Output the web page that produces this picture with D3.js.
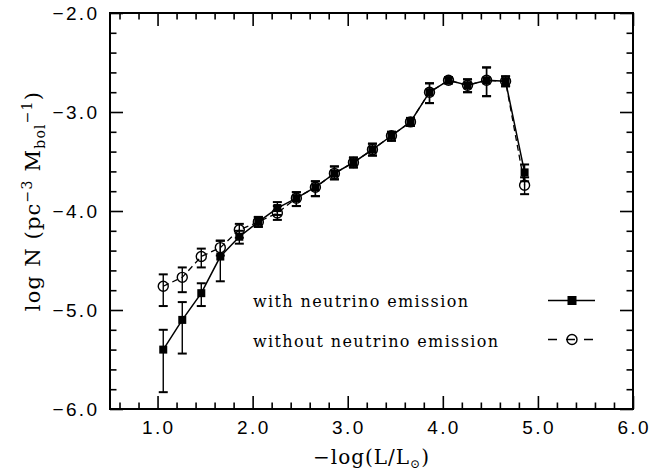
<!DOCTYPE html>
<html>
<head>
<meta charset="utf-8">
<script src="https://cdn.jsdelivr.net/npm/d3@7"></script>
<style>
  html, body { margin: 0; padding: 0; background: #fff; }
  svg { display: block; }
</style>
</head>
<body>
<svg id="chart" width="650" height="474"></svg>
<script>
// ---- data ----
const xVals = [1.06, 1.26, 1.46, 1.66, 1.86, 2.06, 2.26, 2.46, 2.66, 2.86,
               3.06, 3.26, 3.46, 3.66, 3.86, 4.06, 4.26, 4.46, 4.66, 4.86];
const withY   = [-5.40, -5.10, -4.83, -4.46, -4.26, -4.11, -3.97, -3.87, -3.76, -3.62,
                 -3.51, -3.38, -3.24, -3.10, -2.80, -2.68, -2.73, -2.68, -2.69, -3.61];
const withUp  = [0.20, 0.18, 0.10, 0.16, 0.06, 0.05, 0.06, 0.06, 0.06, 0.07,
                 0.05, 0.06, 0.04, 0.04, 0.09, 0.03, 0.06, 0.13, 0.05, 0.08];
const withDn  = [0.43, 0.34, 0.13, 0.25, 0.07, 0.05, 0.07, 0.08, 0.09, 0.06,
                 0.05, 0.06, 0.05, 0.04, 0.11, 0.03, 0.07, 0.16, 0.05, 0.09];
const withoutY  = [-4.76, -4.67, -4.46, -4.37, -4.19, -4.11, -4.02, -3.87, -3.76, -3.62,
                   -3.51, -3.38, -3.24, -3.10, -2.80, -2.68, -2.73, -2.68, -2.69, -3.74];
const withoutUp = [0.12, 0.10, 0.08, 0.07, 0.06, 0.05, 0.07, 0.06, 0.06, 0.07,
                   0.05, 0.06, 0.04, 0.04, 0.09, 0.03, 0.06, 0.13, 0.05, 0.08];
const withoutDn = [0.20, 0.15, 0.11, 0.08, 0.08, 0.05, 0.07, 0.08, 0.09, 0.06,
                   0.05, 0.06, 0.05, 0.04, 0.11, 0.03, 0.07, 0.16, 0.05, 0.09];
const xTicks = [1, 2, 3, 4, 5, 6];
const yTicks = [-6, -5, -4, -3, -2];
const seriesNames = ["with neutrino emission", "without neutrino emission"];

// ---- layout ----
const L = 110, R = 633, T = 13, B = 409;
const svg = d3.select("#chart");
const x = d3.scaleLinear().domain([0.5, 6]).range([L, R]);
const y = d3.scaleLinear().domain([-6, -2]).range([B, T]);

const xMinor = d3.range(0.6, 6.0001, 0.2).filter(v => Math.abs(v - Math.round(v)) > 1e-6);
const yMinor = d3.range(-5.8, -2.0001, 0.2).filter(v => Math.abs(v - Math.round(v)) > 1e-6);

const MAJ = 13, MIN = 6.5;
function styleAxis(g) {
  g.select(".domain").remove();
  g.selectAll(".tick line").attr("stroke", "#000").attr("stroke-width", 1.6);
}
// ticks (inward) on all four sides
svg.append("g").attr("transform", `translate(0,${B})`)
  .call(d3.axisBottom(x).tickValues(xTicks).tickSize(-MAJ).tickFormat("")).call(styleAxis);
svg.append("g").attr("transform", `translate(0,${B})`)
  .call(d3.axisBottom(x).tickValues(xMinor).tickSize(-MIN).tickFormat("")).call(styleAxis);
svg.append("g").attr("transform", `translate(0,${T})`)
  .call(d3.axisTop(x).tickValues(xTicks).tickSize(-MAJ).tickFormat("")).call(styleAxis);
svg.append("g").attr("transform", `translate(0,${T})`)
  .call(d3.axisTop(x).tickValues(xMinor).tickSize(-MIN).tickFormat("")).call(styleAxis);
svg.append("g").attr("transform", `translate(${L},0)`)
  .call(d3.axisLeft(y).tickValues(yTicks).tickSize(-MAJ).tickFormat("")).call(styleAxis);
svg.append("g").attr("transform", `translate(${L},0)`)
  .call(d3.axisLeft(y).tickValues(yMinor).tickSize(-MIN).tickFormat("")).call(styleAxis);
svg.append("g").attr("transform", `translate(${R},0)`)
  .call(d3.axisRight(y).tickValues(yTicks).tickSize(-MAJ).tickFormat("")).call(styleAxis);
svg.append("g").attr("transform", `translate(${R},0)`)
  .call(d3.axisRight(y).tickValues(yMinor).tickSize(-MIN).tickFormat("")).call(styleAxis);

// frame
svg.append("rect").attr("x", L).attr("y", T).attr("width", R - L).attr("height", B - T)
  .attr("fill", "none").attr("stroke", "#000").attr("stroke-width", 2);

// tick labels
const fmt = d3.format(".1f");
const tickFont = "'Liberation Sans', Arial, sans-serif";
svg.append("g").selectAll("text").data(xTicks).join("text")
  .attr("x", d => x(d) + 1.2).attr("y", 433.5)
  .attr("text-anchor", "middle")
  .attr("font-family", tickFont).attr("font-size", 19).attr("letter-spacing", "2.4px")
  .text(d => fmt(d));
svg.append("g").selectAll("text").data(yTicks).join("text")
  .attr("x", 99.5).attr("y", d => y(d) + 6.8)
  .attr("text-anchor", "end")
  .attr("font-family", tickFont).attr("font-size", 19).attr("letter-spacing", "2.4px")
  .text(d => fmt(d));

// axis titles
const serif = "'DejaVu Serif', 'Liberation Serif', serif";
const xt = svg.append("text").attr("x", (L + R) / 2).attr("y", 464)
  .attr("text-anchor", "middle").attr("font-family", serif).attr("font-size", 20)
  .attr("letter-spacing", "1px");
xt.append("tspan").text("\u2212log(L/L");
xt.append("tspan").attr("font-size", 12).attr("dy", 4).text("\u2299");
xt.append("tspan").attr("dy", -4).text(")");

const yt = svg.append("text").attr("transform", `translate(40,201) rotate(-90)`)
  .attr("text-anchor", "middle").attr("font-family", serif).attr("font-size", 21)
  .attr("letter-spacing", "1.2px");
yt.append("tspan").text("log N (pc");
yt.append("tspan").attr("font-size", 14).attr("dy", -8).text("\u22123");
yt.append("tspan").attr("dy", 8).text(" M");
yt.append("tspan").attr("font-size", 14).attr("dy", 5).text("bol");
yt.append("tspan").attr("font-size", 14).attr("dy", -13).text("\u22121");
yt.append("tspan").attr("dy", 8).text(")");

// ---- data marks ----
const withData = xVals.map((v, i) => ({x: v, y: withY[i], up: withUp[i], dn: withDn[i]}));
const withoutData = xVals.map((v, i) => ({x: v, y: withoutY[i], up: withoutUp[i], dn: withoutDn[i]}));
const line = d3.line().x(d => x(d.x)).y(d => y(d.y));

svg.append("path").datum(withoutData).attr("d", line)
  .attr("fill", "none").attr("stroke", "#000").attr("stroke-width", 1.3)
  .attr("stroke-dasharray", "6,4");
svg.append("path").datum(withData).attr("d", line)
  .attr("fill", "none").attr("stroke", "#000").attr("stroke-width", 1.5);

function errorBars(data) {
  const g = svg.append("g").attr("stroke", "#000");
  const cap = 4.5;
  g.selectAll("line.v").data(data).join("line").attr("class", "v")
    .attr("x1", d => x(d.x)).attr("x2", d => x(d.x))
    .attr("y1", d => y(d.y + d.up)).attr("y2", d => y(d.y - d.dn))
    .attr("stroke-width", 1.4);
  g.selectAll("line.t").data(data).join("line").attr("class", "t")
    .attr("x1", d => x(d.x) - cap).attr("x2", d => x(d.x) + cap)
    .attr("y1", d => y(d.y + d.up)).attr("y2", d => y(d.y + d.up))
    .attr("stroke-width", 2);
  g.selectAll("line.b").data(data).join("line").attr("class", "b")
    .attr("x1", d => x(d.x) - cap).attr("x2", d => x(d.x) + cap)
    .attr("y1", d => y(d.y - d.dn)).attr("y2", d => y(d.y - d.dn))
    .attr("stroke-width", 2);
}
errorBars(withoutData);
errorBars(withData);

const SQ = 8, CR = 5;
svg.append("g").selectAll("rect").data(withData).join("rect")
  .attr("x", d => x(d.x) - SQ / 2).attr("y", d => y(d.y) - SQ / 2)
  .attr("width", SQ).attr("height", SQ).attr("fill", "#000");
svg.append("g").selectAll("circle").data(withoutData).join("circle")
  .attr("cx", d => x(d.x)).attr("cy", d => y(d.y)).attr("r", CR)
  .attr("fill", "none").attr("stroke", "#000").attr("stroke-width", 1.4);

// ---- legend ----
const legFont = serif;
svg.append("text").attr("x", 253).attr("y", 306.5)
  .attr("font-family", legFont).attr("font-size", 16)
  .attr("textLength", 215).attr("lengthAdjust", "spacing").text(seriesNames[0]);
svg.append("text").attr("x", 253).attr("y", 346.5)
  .attr("font-family", legFont).attr("font-size", 16)
  .attr("textLength", 245).attr("lengthAdjust", "spacing").text(seriesNames[1]);

svg.append("line").attr("x1", 548).attr("x2", 595).attr("y1", 300.5).attr("y2", 300.5)
  .attr("stroke", "#000").attr("stroke-width", 1.5);
svg.append("rect").attr("x", 572 - 4.5).attr("y", 300.5 - 4.5).attr("width", 9).attr("height", 9)
  .attr("fill", "#000");
svg.append("line").attr("x1", 548).attr("x2", 593).attr("y1", 339.5).attr("y2", 339.5)
  .attr("stroke", "#000").attr("stroke-width", 1.3).attr("stroke-dasharray", "9,9");
svg.append("circle").attr("cx", 572).attr("cy", 339.5).attr("r", 5)
  .attr("fill", "none").attr("stroke", "#000").attr("stroke-width", 1.4);
</script>
</body>
</html>
